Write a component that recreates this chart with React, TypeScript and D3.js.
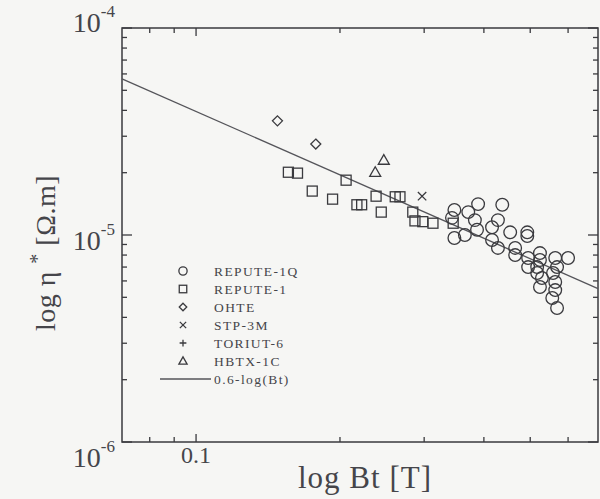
import * as d3 from 'd3'

// values
const repute1q: [number, number][] = [
  [0.347, 1.32e-5], [0.343, 1.21e-5], [0.347, 9.67e-6], [0.365, 1.0e-5], [0.371, 1.29e-5],
  [0.389, 1.41e-5], [0.383, 1.18e-5], [0.387, 1.06e-5], [0.437, 1.4e-5], [0.428, 1.18e-5],
  [0.416, 1.09e-5], [0.416, 9.46e-6], [0.428, 8.66e-6], [0.454, 1.03e-5], [0.465, 8.66e-6],
  [0.465, 8.0e-6], [0.493, 1.03e-5], [0.493, 9.89e-6], [0.495, 7.74e-6], [0.524, 8.18e-6],
  [0.524, 7.57e-6], [0.495, 7.0e-6], [0.517, 7.0e-6], [0.517, 6.55e-6], [0.529, 6.2e-6],
  [0.564, 7.74e-6], [0.569, 7.0e-6], [0.6, 7.74e-6], [0.558, 6.55e-6], [0.564, 5.93e-6],
  [0.524, 5.61e-6], [0.564, 5.42e-6], [0.556, 4.96e-6], [0.569, 4.44e-6],
]
const repute1: [number, number][] = [
  [0.156, 2.01e-5], [0.163, 1.99e-5], [0.175, 1.63e-5], [0.193, 1.49e-5], [0.206, 1.84e-5],
  [0.217, 1.4e-5], [0.222, 1.4e-5], [0.238, 1.54e-5], [0.244, 1.29e-5], [0.261, 1.53e-5],
  [0.267, 1.53e-5], [0.284, 1.29e-5], [0.287, 1.17e-5], [0.298, 1.16e-5], [0.313, 1.14e-5],
  [0.345, 1.14e-5],
]
const ohte: [number, number][] = [[0.148, 3.56e-5], [0.178, 2.75e-5]]
const stp3m: [number, number][] = [[0.297, 1.54e-5]]
const toriut6: [number, number][] = []
const hbtx1c: [number, number][] = [[0.237, 2.01e-5], [0.247, 2.3e-5]]
const fitLine: [number, number][] = [[0.07, 5.68e-5], [0.693, 5.51e-6]]

const legendLabels = ['REPUTE-1Q', 'REPUTE-1', 'OHTE', 'STP-3M', 'TORIUT-6', 'HBTX-1C', '0.6-log(Bt)']
const xMajorTicks = [0.1]
const xMajorLabels = ['0.1']
const xMinorTicks = [0.08, 0.09, 0.2, 0.3, 0.4, 0.5, 0.6]
const yMajorTicks = [1e-4, 1e-5, 1e-6]
const yMajorExp = ['-4', '-5', '-6']
const yMinorTicks = [2, 3, 4, 5, 6, 7, 8, 9].flatMap(m => [m * 1e-6, m * 1e-5])

const W = 600
const H = 499
const left = 122, right = 598, top = 28, bottom = 442
const ink = '#3a3a3e'
const textInk = '#45454a'
const serif = '"Liberation Serif", "DejaVu Serif", serif'

const x = d3.scaleLog().domain([0.07, 0.693]).range([left, right])
const y = d3.scaleLog().domain([1e-6, 1e-4]).range([bottom, top])
// the printed decade labels sit a little spread out from their ticks
const yLabel = d3.scaleLog().domain([1e-6, 1e-4]).range([467, 32])

type Kind = 'circle' | 'square' | 'diamond' | 'cross' | 'plus' | 'triangle'

const Marker = ({ kind, cx, cy, s }: { kind: Kind; cx: number; cy: number; s: number }) => {
  const common = { fill: 'none', stroke: ink, strokeWidth: 1.3 }
  if (kind === 'circle') return <circle cx={cx} cy={cy} r={s * 0.55} {...common} />
  if (kind === 'square') return <rect x={cx - s / 2} y={cy - s / 2} width={s} height={s} {...common} />
  if (kind === 'diamond') {
    const h = s * 0.5
    return <path d={`M${cx},${cy - h}L${cx + h},${cy}L${cx},${cy + h}L${cx - h},${cy}Z`} {...common} />
  }
  if (kind === 'cross') {
    const h = s * 0.42
    return <path d={`M${cx - h},${cy - h}L${cx + h},${cy + h}M${cx - h},${cy + h}L${cx + h},${cy - h}`} {...common} />
  }
  if (kind === 'plus') {
    const h = s * 0.45
    return <path d={`M${cx - h},${cy}L${cx + h},${cy}M${cx},${cy - h}L${cx},${cy + h}`} {...common} />
  }
  const h = s * 0.55
  return <path d={`M${cx},${cy - h}L${cx + h},${cy + h * 0.75}L${cx - h},${cy + h * 0.75}Z`} {...common} />
}

const seriesList: { data: [number, number][]; kind: Kind; size: number }[] = [
  { data: repute1q, kind: 'circle', size: 11.5 },
  { data: repute1, kind: 'square', size: 10 },
  { data: ohte, kind: 'diamond', size: 10 },
  { data: stp3m, kind: 'cross', size: 10 },
  { data: toriut6, kind: 'plus', size: 10 },
  { data: hbtx1c, kind: 'triangle', size: 10 },
]

export default function App() {
  const line = d3.line<[number, number]>().x(d => x(d[0])).y(d => y(d[1]))
  const legendY = (i: number) => 276 + i * 18

  return (
    <div style={{ position: 'absolute', left: 0, top: 0 }}>
      <svg width={W} height={H} style={{ display: 'block', background: '#f6f6f4' }}>
        {/* frame */}
        <rect x={left} y={top} width={right - left} height={bottom - top} fill="none" stroke={ink} strokeWidth={1.5} />

        {/* x ticks, top and bottom, pointing inward */}
        {xMinorTicks.map(t => (
          <g key={'xm' + t}>
            <line x1={x(t)} x2={x(t)} y1={bottom} y2={bottom - 5} stroke={ink} strokeWidth={1.3} />
            <line x1={x(t)} x2={x(t)} y1={top} y2={top + 5} stroke={ink} strokeWidth={1.3} />
          </g>
        ))}
        {xMajorTicks.map((t, i) => (
          <g key={'xM' + t}>
            <line x1={x(t)} x2={x(t)} y1={bottom} y2={bottom - 8} stroke={ink} strokeWidth={1.3} />
            <line x1={x(t)} x2={x(t)} y1={top} y2={top + 8} stroke={ink} strokeWidth={1.3} />
            <text x={x(t)} y={bottom + 21} textAnchor="middle" fontFamily={serif} fontSize={24} fill={textInk}>
              {xMajorLabels[i]}
            </text>
          </g>
        ))}

        {/* y ticks */}
        {yMinorTicks.map(t => (
          <g key={'ym' + t}>
            <line x1={left} x2={left + 5} y1={y(t)} y2={y(t)} stroke={ink} strokeWidth={1.3} />
            <line x1={right} x2={right - 5} y1={y(t)} y2={y(t)} stroke={ink} strokeWidth={1.3} />
          </g>
        ))}
        {yMajorTicks.map((t, i) => (
          <g key={'yM' + t}>
            <line x1={left} x2={left + 10} y1={y(t)} y2={y(t)} stroke={ink} strokeWidth={1.3} />
            <line x1={right} x2={right - 10} y1={y(t)} y2={y(t)} stroke={ink} strokeWidth={1.3} />
            <text x={left - 7} y={yLabel(t)} textAnchor="end" fontFamily={serif} fontSize={28} fill={textInk}>
              <tspan>10</tspan>
              <tspan dy={-15} fontSize={17}>{yMajorExp[i]}</tspan>
            </text>
          </g>
        ))}

        {/* fit */}
        <path d={line(fitLine) || ''} fill="none" stroke="#55555a" strokeWidth={1.3} />

        {/* data */}
        {seriesList.map(s =>
          s.data.map((d, j) => <Marker key={s.kind + j} kind={s.kind} cx={x(d[0])} cy={y(d[1])} s={s.size} />)
        )}

        {/* legend */}
        {seriesList.map((s, i) => (
          <g key={'lg' + i}>
            <Marker kind={s.kind} cx={183} cy={legendY(i) - 5} s={7.5} />
            <text x={214} y={legendY(i)} fontFamily={serif} fontSize={13.5} letterSpacing={1.4} fill={textInk}>
              {legendLabels[i]}
            </text>
          </g>
        ))}
        <line x1={160} x2={211} y1={legendY(6) - 5} y2={legendY(6) - 5} stroke="#55555a" strokeWidth={1.3} />
        <text x={214} y={legendY(6)} fontFamily={serif} fontSize={13.5} letterSpacing={1.4} fill={textInk}>
          {legendLabels[6]}
        </text>

        {/* axis titles */}
        <text x={365} y={488} textAnchor="middle" fontFamily={serif} fontSize={31} letterSpacing={1} fill={textInk}>
          log Bt [T]
        </text>
        <text transform={`translate(55,${(top + bottom) / 2 + 18}) rotate(-90)`} textAnchor="middle"
          fontFamily={serif} fontSize={28} letterSpacing={0.5} fill={textInk}>
          <tspan>log η </tspan>
          <tspan dy={-11} fontSize={20}>*</tspan>
          <tspan dy={11}> [Ω.m]</tspan>
        </text>
      </svg>
    </div>
  )
}
